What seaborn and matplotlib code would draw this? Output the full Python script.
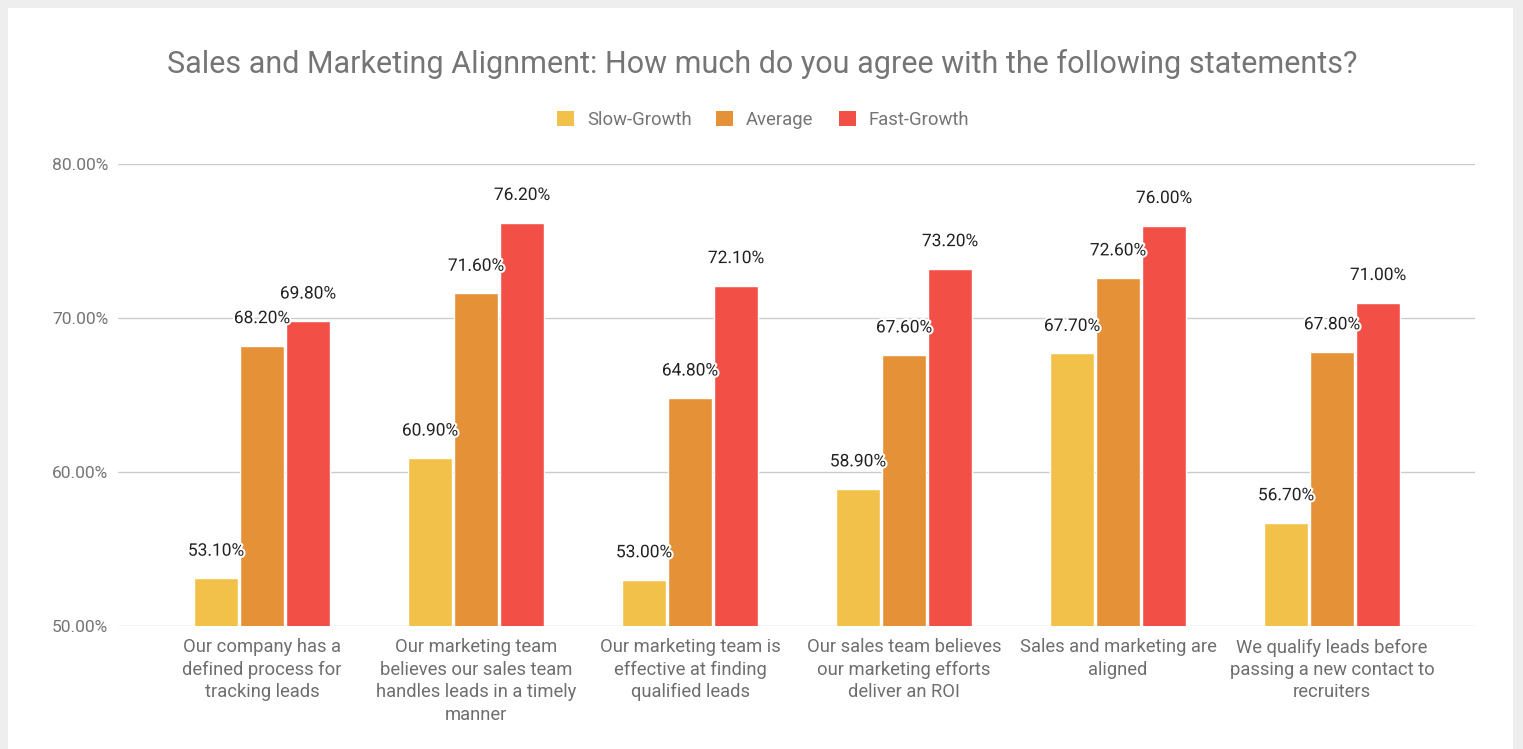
import matplotlib
matplotlib.use("Agg")
import matplotlib.pyplot as plt
import matplotlib.patheffects as pe
from matplotlib.patches import Rectangle
import pandas as pd
import seaborn as sns

# Survey statements (x categories) and their wrapped tick labels
categories = [
    "Our company has a defined process for tracking leads",
    "Our marketing team believes our sales team handles leads in a timely manner",
    "Our marketing team is effective at finding qualified leads",
    "Our sales team believes our marketing efforts deliver an ROI",
    "Sales and marketing are aligned",
    "We qualify leads before passing a new contact to recruiters",
]
tick_labels = [
    "Our company has a\ndefined process for\ntracking leads",
    "Our marketing team\nbelieves our sales team\nhandles leads in a timely\nmanner",
    "Our marketing team is\neffective at finding\nqualified leads",
    "Our sales team believes\nour marketing efforts\ndeliver an ROI",
    "Sales and marketing are\naligned",
    "We qualify leads before\npassing a new contact to\nrecruiters",
]
series_names = ["Slow-Growth", "Average", "Fast-Growth"]
slow_growth = [53.1, 60.9, 53.0, 58.9, 67.7, 56.7]
average = [68.2, 71.6, 64.8, 67.6, 72.6, 67.8]
fast_growth = [69.8, 76.2, 72.1, 73.2, 76.0, 71.0]
y_ticks = [50, 60, 70, 80]

colors = ["#F2C14A", "#E59137", "#F25047"]

rows = []
for name, vals in zip(series_names, [slow_growth, average, fast_growth]):
    for cat, v in zip(categories, vals):
        rows.append({"statement": cat, "group": name, "value": v})
df = pd.DataFrame(rows)

sns.set_theme(style="white")
plt.rcParams["font.family"] = ["Roboto", "DejaVu Sans"]

W, H = 1523, 749
fig = plt.figure(figsize=(W / 100, H / 100), dpi=100, facecolor="#EEEEEE")
# white card behind everything
fig.patches.append(Rectangle((8 / W, 0), (1513 - 8) / W, (H - 8) / H,
                             transform=fig.transFigure, facecolor="white",
                             edgecolor="none", zorder=-10))

ax = fig.add_axes([118 / W, 1 - 626 / H, (1475 - 118) / W, (626 - 164) / H])
ax.set_facecolor("none")

sns.barplot(data=df, x="statement", y="value", hue="group",
            order=categories, hue_order=series_names, palette=colors,
            width=0.645, gap=0.045, saturation=1, errorbar=None,
            legend=False, ax=ax, zorder=3)

ax.set_ylim(50, 80)
ax.set_xlim(-0.673, 5.668)
ax.set_yticks(y_ticks)
ax.set_yticklabels([f"{t:.2f}%" for t in y_ticks])
ax.set_xticks(range(len(categories)))
ax.set_xticklabels(tick_labels, linespacing=1.31)
ax.set_xlabel("")
ax.set_ylabel("")
ax.tick_params(axis="y", length=0, pad=7, labelsize=12.5, labelcolor="#757575")
ax.tick_params(axis="x", length=0, pad=9, labelsize=13.2, labelcolor="#6E6E6E")
for lab in ax.get_xticklabels():
    lab.set_verticalalignment("top")

ax.yaxis.grid(True, color="#CCCCCC", linewidth=1, zorder=0)
ax.xaxis.grid(False)
for s in ax.spines.values():
    s.set_visible(False)

# value labels above each bar
halo = [pe.withStroke(linewidth=3, foreground="white")]
for container, vals in zip(ax.containers, [slow_growth, average, fast_growth]):
    for bar, v in zip(container, vals):
        ax.annotate(f"{v:.2f}%", (bar.get_x() + bar.get_width() / 2, v),
                    xytext=(0, 19.5), textcoords="offset points",
                    ha="center", va="center", fontsize=12.5, color="#212121",
                    path_effects=halo, zorder=5, annotation_clip=False)

fig.text(762 / W, 1 - 64 / H,
         "Sales and Marketing Alignment: How much do you agree with the following statements?",
         ha="center", va="center", fontsize=22, color="#757575")

handles = [Rectangle((0, 0), 1, 1, facecolor=c, edgecolor="none") for c in colors]
fig.legend(handles, series_names, loc="center", bbox_to_anchor=(763 / W, 1 - 120 / H),
           ncol=3, frameon=False, fontsize=13.3, labelcolor="#757575",
           handlelength=0.92, handleheight=0.92, handletextpad=0.7, columnspacing=1.35)

fig.savefig("out.png", dpi=100, facecolor=fig.get_facecolor())
